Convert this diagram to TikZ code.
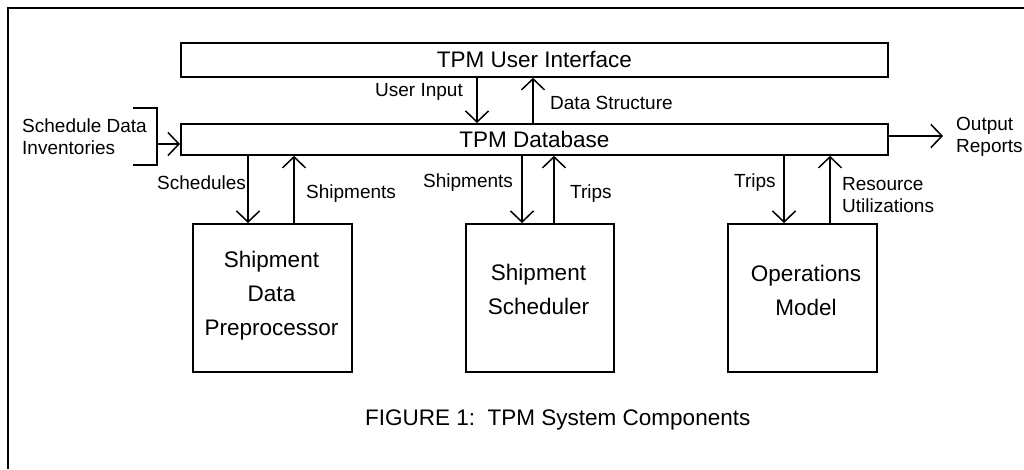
\documentclass[tikz,border=0pt]{standalone}
\usepackage{fontspec}
\setmainfont{Liberation Sans}
\usetikzlibrary{arrows.meta}
\begin{document}
\begin{tikzpicture}[x=1pt,y=-1pt,
  frame/.style={line width=1.8pt},
  box/.style={draw,line width=1.8pt,inner sep=0pt,anchor=north west,font=\fontsize{22.5}{26}\selectfont},
  boxtext/.style={align=center,inner sep=0pt,font=\fontsize{22.5}{34}\selectfont},
  lbl/.style={anchor=west,inner sep=0pt,align=left,font=\fontsize{19}{22}\selectfont},
  arr/.style={line width=1.5pt,-{Straight Barb[length=11pt,width=23pt]}},
  ln/.style={line width=1.5pt}]
\useasboundingbox (0,0) rectangle (1024,469);
% frame (top and left only)
\draw[frame] (1024,8) -- (8,8) -- (8,469);
% main boxes
\node[box,minimum width=707pt,minimum height=34pt] (ui) at (180,42) {TPM User Interface};
\node[box,minimum width=707pt,minimum height=31pt] (db) at (180,123) {TPM Database};
\node[box,minimum width=159pt,minimum height=148pt] (pre) at (192,223) {};
\node[box,minimum width=148pt,minimum height=148pt] (sch) at (465,223) {};
\node[box,minimum width=149pt,minimum height=148pt] (ops) at (727,223) {};
\node[boxtext] (pret) at (271.5,296) {Shipment\\Data\\Preprocessor};
\node[boxtext] (scht) at (538.5,289.5) {Shipment\\Scheduler};
\node[boxtext] (opst) at (806,290) {Operations\\Model};
% x positions of connectors
\coordinate (xa) at (477,0);
\coordinate (xb) at (533,0);
\coordinate (x1d) at (248,0);
\coordinate (x1u) at (294,0);
\coordinate (x2d) at (522,0);
\coordinate (x2u) at (554,0);
\coordinate (x3d) at (784,0);
\coordinate (x3u) at (830,0);
% UI <-> DB
\draw[arr] (ui.south -| xa) -- (db.north -| xa);
\draw[arr] (db.north -| xb) -- (ui.south -| xb);
% DB <-> lower boxes
\draw[arr] (db.south -| x1d) -- (pre.north -| x1d);
\draw[arr] (pre.north -| x1u) -- (db.south -| x1u);
\draw[arr] (db.south -| x2d) -- (sch.north -| x2d);
\draw[arr] (sch.north -| x2u) -- (db.south -| x2u);
\draw[arr] (db.south -| x3d) -- (ops.north -| x3d);
\draw[arr] (ops.north -| x3u) -- (db.south -| x3u);
% input bracket
\draw[ln] (133,108) -- (157,108) -- (157,165) -- (133,165);
\coordinate (brk) at (157,144);
\draw[arr] (brk) -- (db.west |- brk);
% output
\coordinate (outtip) at (943,136);
\draw[arr] (db.east |- outtip) -- (outtip);
% labels
\node[lbl] (lui) at (375,92) {User Input};
\node[lbl] (lds) at (550,103) {Data Structure};
\node[lbl] (lsd) at (22,137) {Schedule Data\\Inventories};
\node[lbl] (lout) at (956,137) {Output\\Reports};
\node[lbl] (lsch) at (157,183) {Schedules};
\node[lbl] (lsh1) at (306,194) {Shipments};
\node[lbl] (lsh2) at (423,183) {Shipments};
\node[lbl] (ltr2) at (570,194) {Trips};
\node[lbl] (ltr3) at (734,183) {Trips};
\node[lbl] (lres) at (842,195) {Resource\\Utilizations};
% caption
\node[anchor=west,inner sep=0pt,font=\fontsize{22.5}{26}\selectfont] (cap) at (365,420) {FIGURE 1:\ \ TPM System Components};
\end{tikzpicture}
\end{document}
